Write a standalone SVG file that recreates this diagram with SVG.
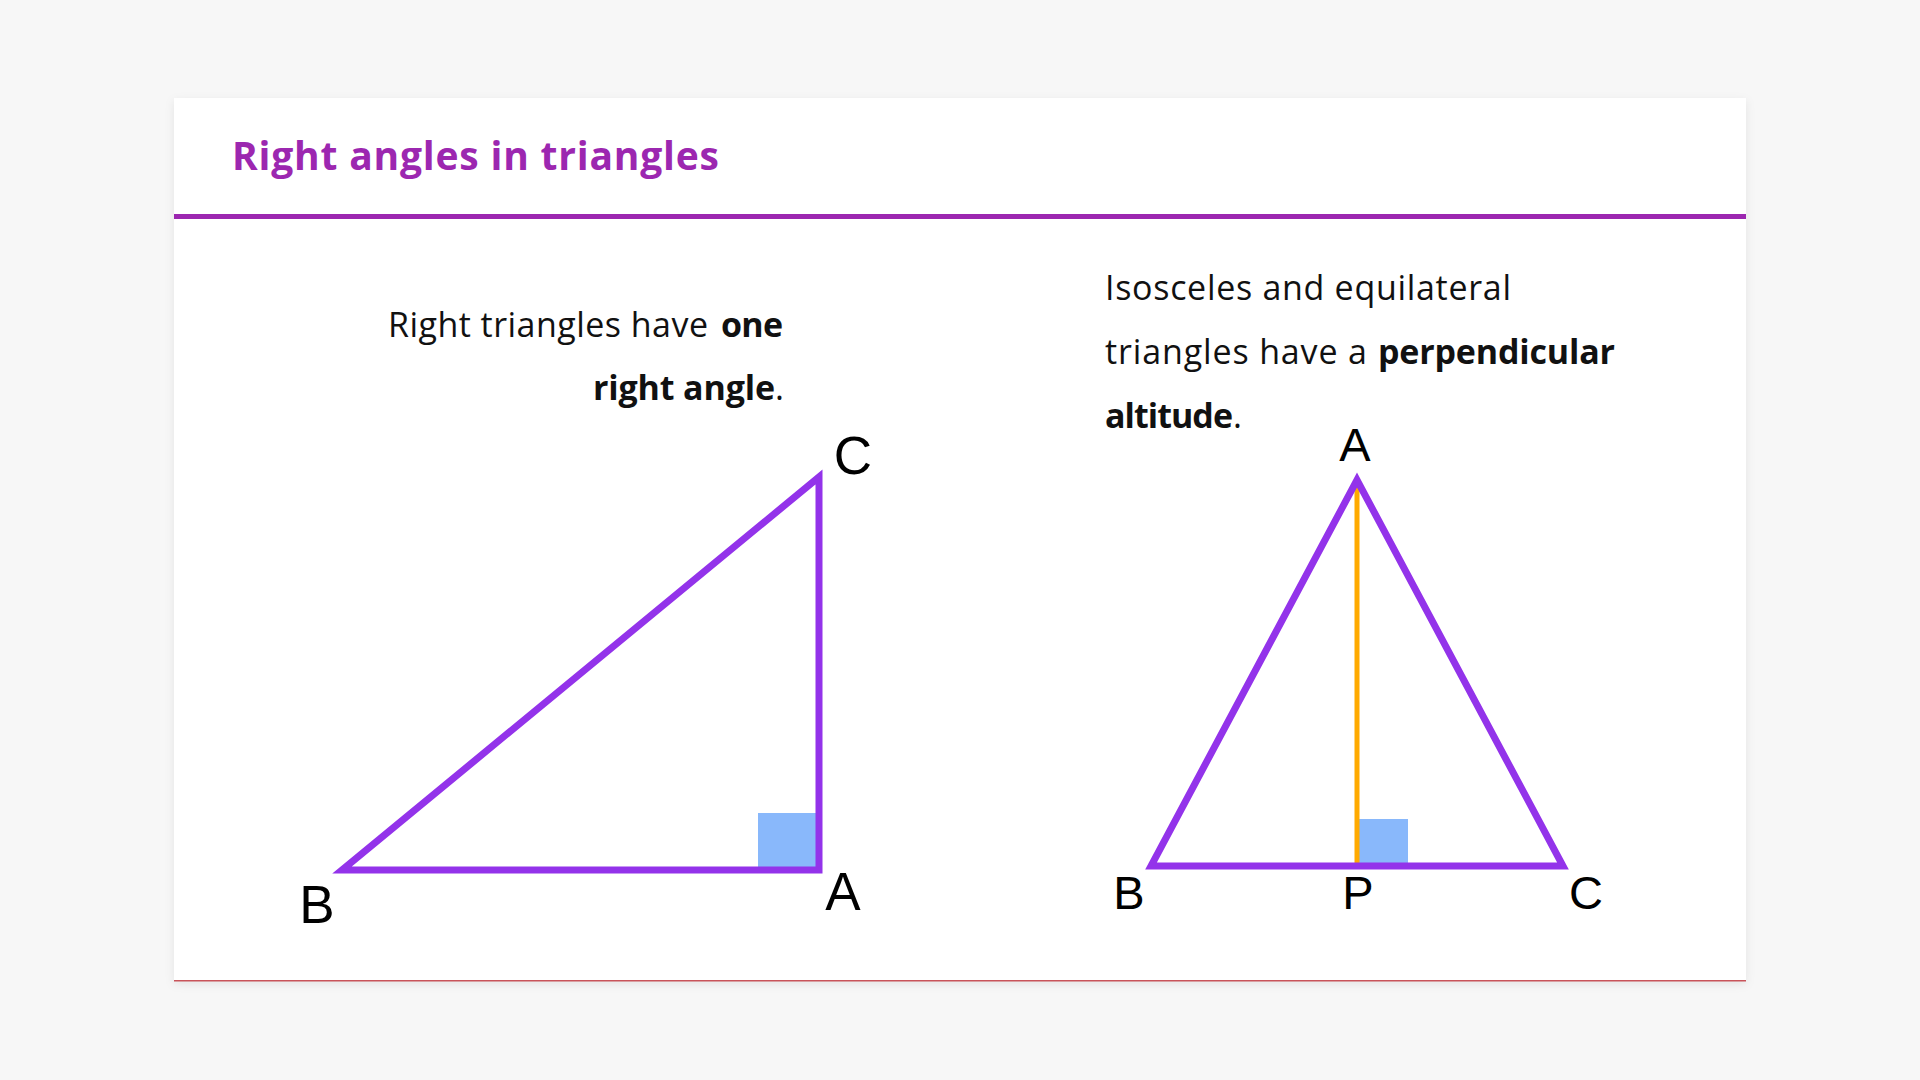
<svg xmlns="http://www.w3.org/2000/svg" width="1920" height="1080" viewBox="0 0 1920 1080">
<defs>
<filter id="shadow" x="-5%" y="-5%" width="110%" height="115%">
<feDropShadow dx="0" dy="3" stdDeviation="5" flood-color="#000" flood-opacity="0.08"/>
</filter>
<style>
.title{font-family:"Open Sans","Noto Sans",sans-serif;font-weight:700;font-size:39px;fill:#9c27b0}
.body{font-family:"Open Sans","Noto Sans",sans-serif;font-size:34px;fill:#111}
.b{font-weight:700}
.lbl{font-family:"Liberation Sans",Arial,sans-serif;fill:#000;text-anchor:middle}
.lbl-l{font-size:53px}
.lbl-r{font-size:47px}
.tri{fill:none;stroke:#9333ea;stroke-width:7;stroke-linejoin:miter}
.sq{fill:#89b8fb}
.alt{stroke:#ffaa00;stroke-width:5}
</style>
</defs>
<rect x="0" y="0" width="1920" height="1080" fill="#f7f7f7"/>
<g id="card">
<rect x="174" y="98" width="1572" height="883" fill="#ffffff" filter="url(#shadow)"/>
<rect x="174" y="980" width="1572" height="1.5" fill="#c9545a"/>
<rect x="174" y="214" width="1572" height="5" fill="#9c27b0"/>
<text class="title" x="232" y="170" textLength="487">Right angles in triangles</text>
</g>
<g id="left-text">
<text class="body" x="388" y="337" textLength="320">Right triangles have</text>
<text class="body b" x="721" y="337" textLength="62">one</text>
<text class="body b" x="593" y="400" textLength="182">right angle</text>
<text class="body" x="775" y="400">.</text>
</g>
<g id="right-text">
<text class="body" x="1105" y="300" textLength="406">Isosceles and equilateral</text>
<text class="body" x="1105" y="364" textLength="262">triangles have a</text>
<text class="body b" x="1378" y="364" textLength="237">perpendicular</text>
<text class="body b" x="1105" y="428" textLength="128">altitude</text>
<text class="body" x="1233" y="428">.</text>
</g>
<g id="right-triangle">
<rect class="sq" x="758" y="813" width="61" height="57"/>
<polygon class="tri" points="342,870 819,870 819,477"/>
<text class="lbl lbl-l" x="853" y="474">C</text>
<text class="lbl lbl-l" x="317" y="923">B</text>
<text class="lbl lbl-l" x="843" y="910">A</text>
</g>
<g id="isosceles-triangle">
<rect class="sq" x="1359" y="819" width="49" height="47"/>
<line class="alt" x1="1357" y1="480" x2="1357" y2="866"/>
<polygon class="tri" points="1357,480 1151,866 1563,866"/>
<text class="lbl lbl-r" x="1355" y="461">A</text>
<text class="lbl lbl-r" x="1129" y="909">B</text>
<text class="lbl lbl-r" x="1358" y="909">P</text>
<text class="lbl lbl-r" x="1586" y="909">C</text>
</g>
</svg>
